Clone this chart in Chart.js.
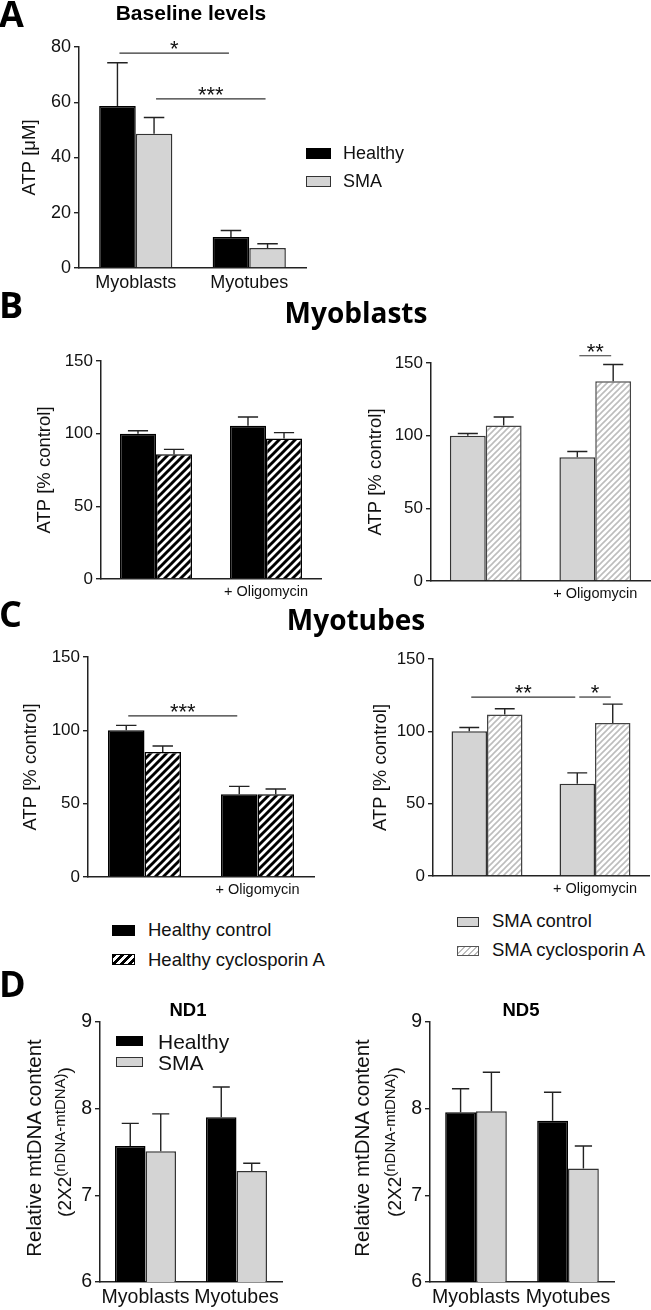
<!DOCTYPE html>
<html>
<head>
<meta charset="utf-8">
<script src="https://cdn.jsdelivr.net/npm/chart.js@4.4.1/dist/chart.umd.min.js"></script>
<style>
  body { margin: 0; background: #fff; }
  #page { position: relative; width: 651px; height: 1310px; overflow: hidden; font-family: "Liberation Sans", Arial, sans-serif; color: #111; }
  #page canvas { position: absolute; }
  .t { position: absolute; white-space: nowrap; line-height: 1; }
  .letter { font-family: "Open Sans", sans-serif; font-weight: 700; font-size: 36px; color: #000; }
  .section { font-family: "Open Sans", sans-serif; font-weight: 700; font-size: 28px; color: #000; transform: translateX(-50%); }
  .ctitle { font-weight: 700; color: #000; transform: translateX(-50%); }
  .sw { position: absolute; box-sizing: border-box; }
  .black { background: #000; }
  .gray { background: #d4d4d4; border: 1.3px solid #333; }
  .dhatch { background: repeating-linear-gradient(135deg, #000 0 2.6px, #fff 2.6px 5.6px); border: 1px solid #000; }
  .lhatch { background: repeating-linear-gradient(135deg, #bdbdbd 0 1.4px, #fff 1.4px 4.2px); border: 1.3px solid #555; }
  .ytitle { position: absolute; white-space: nowrap; line-height: 1; transform: translate(-50%, -50%) rotate(-90deg); }
  .ytitle sup { font-size: 15px; vertical-align: 0.45em; }
</style>
</head>
<body>
<div id="page">
  <canvas id="chartA"></canvas>
  <canvas id="chartBL"></canvas>
  <canvas id="chartBR"></canvas>
  <canvas id="chartCL"></canvas>
  <canvas id="chartCR"></canvas>
  <canvas id="chartDL"></canvas>
  <canvas id="chartDR"></canvas>

  <div class="t letter" style="left:-1px;top:-4px">A</div>
  <div class="t letter" style="left:-1px;top:287px">B</div>
  <div class="t letter" style="left:-1px;top:596px">C</div>
  <div class="t letter" style="left:-1px;top:966px">D</div>

  <div class="t section" style="left:356px;top:298px">Myoblasts</div>
  <div class="t section" style="left:356px;top:605px">Myotubes</div>

  <div class="t ctitle" style="left:191px;top:2px;font-size:21px">Baseline levels</div>
  <div class="t ctitle" style="left:188px;top:1001px;font-size:18.5px">ND1</div>
  <div class="t ctitle" style="left:521px;top:1001px;font-size:18.5px">ND5</div>

  <!-- legend A -->
  <div class="sw black" style="left:306px;top:148px;width:25px;height:11px"></div>
  <div class="t" style="left:343px;top:144px;font-size:18px">Healthy</div>
  <div class="sw gray" style="left:306px;top:176px;width:25px;height:11px"></div>
  <div class="t" style="left:343px;top:172px;font-size:18px">SMA</div>

  <!-- legend C left -->
  <div class="sw black" style="left:112px;top:925px;width:23px;height:11px"></div>
  <div class="t" style="left:148px;top:921px;font-size:18.5px">Healthy control</div>
  <div class="sw dhatch" style="left:112px;top:954px;width:23px;height:11px"></div>
  <div class="t" style="left:148px;top:951px;font-size:18.5px">Healthy cyclosporin A</div>

  <!-- legend C right -->
  <div class="sw gray" style="left:457px;top:917px;width:22px;height:10px"></div>
  <div class="t" style="left:492px;top:912px;font-size:18.5px">SMA control</div>
  <div class="sw lhatch" style="left:457px;top:946px;width:22px;height:10px"></div>
  <div class="t" style="left:492px;top:941px;font-size:18.5px">SMA cyclosporin A</div>

  <!-- legend D -->
  <div class="sw black" style="left:116px;top:1036px;width:27px;height:10px"></div>
  <div class="t" style="left:158px;top:1031px;font-size:21px">Healthy</div>
  <div class="sw gray" style="left:116px;top:1057px;width:27px;height:10px"></div>
  <div class="t" style="left:158px;top:1052px;font-size:21px">SMA</div>

  <!-- y titles D -->
  <div class="ytitle" style="left:34px;top:1148px;font-size:20.5px">Relative mtDNA content</div>
  <div class="ytitle" style="left:63px;top:1142px;font-size:19px">(2X2<sup>(nDNA-mtDNA)</sup>)</div>
  <div class="ytitle" style="left:362px;top:1148px;font-size:20.5px">Relative mtDNA content</div>
  <div class="ytitle" style="left:393px;top:1142px;font-size:19px">(2X2<sup>(nDNA-mtDNA)</sup>)</div>
</div>

<script>
// ---- data ----
const cellGroups = ['Myoblasts', 'Myotubes'];
const treatLabels = ['', '+ Oligomycin'];

// A: baseline ATP (uM)
const baseHealthy = [58.6, 11.2];
const baseHealthyErr = [15.7, 2.4];
const baseSma = [48.6, 7.2];
const baseSmaErr = [5.9, 1.6];

// B: myoblasts, ATP % control
const mbHealthyCtrl = [100, 105.5];
const mbHealthyCtrlErr = [2.0, 6.0];
const mbHealthyCsa = [85.8, 96.6];
const mbHealthyCsaErr = [3.4, 4.1];
const mbSmaCtrl = [100, 85.2];
const mbSmaCtrlErr = [1.5, 3.9];
const mbSmaCsa = [107, 137.4];
const mbSmaCsaErr = [5.8, 11.6];

// C: myotubes, ATP % control
const mtHealthyCtrl = [100, 56.4];
const mtHealthyCtrlErr = [3.4, 5.4];
const mtHealthyCsa = [85.2, 56.4];
const mtHealthyCsaErr = [4.1, 3.6];
const mtSmaCtrl = [100, 63.7];
const mtSmaCtrlErr = [2.7, 7.6];
const mtSmaCsa = [111.7, 105.7];
const mtSmaCsaErr = [3.9, 13.1];

// D: relative mtDNA content
const nd1Healthy = [7.57, 7.90];
const nd1HealthyErr = [0.26, 0.35];
const nd1Sma = [7.51, 7.28];
const nd1SmaErr = [0.43, 0.09];
const nd5Healthy = [7.96, 7.86];
const nd5HealthyErr = [0.27, 0.33];
const nd5Sma = [7.97, 7.31];
const nd5SmaErr = [0.45, 0.26];

// y tick values
const ticksBaseline = [0, 20, 40, 60, 80];
const ticksPercent = [0, 50, 100, 150];
const ticksMtDNA = [6, 7, 8, 9];

// significance bars: from/to = [dataset, category]
const sigA = [
  {from: [0, 0], to: [0, 1], y: 77.8, text: '*'},
  {from: [1, 0], to: [1, 1], y: 61.2, text: '***'}
];
const sigBR = [{from: [0, 1], to: [1, 1], y: 155, text: '**'}];
const sigCL = [{from: [0, 0], to: [0, 1], y: 109.8, text: '***'}];
const sigCR = [
  {from: [0, 0], to: [0, 1], y: 123.7, text: '**'},
  {from: [0, 1], to: [1, 1], y: 123.7, text: '*'}
];

const FONT = '"Liberation Sans", Arial, sans-serif';
const GRAY = '#d4d4d4';
Chart.defaults.font.family = FONT;
Chart.defaults.color = '#111';

function hatch(stripe, p, lw) {
  const c = document.createElement('canvas');
  c.width = p; c.height = p;
  const g = c.getContext('2d');
  g.fillStyle = '#fff';
  g.fillRect(0, 0, p, p);
  g.strokeStyle = stripe;
  g.lineWidth = lw;
  g.beginPath();
  g.moveTo(-p / 2, p / 2); g.lineTo(p / 2, -p / 2);
  g.moveTo(0, p); g.lineTo(p, 0);
  g.moveTo(p / 2, 3 * p / 2); g.lineTo(3 * p / 2, p / 2);
  g.stroke();
  return g.createPattern(c, 'repeat');
}
const darkHatch = hatch('#000', 8, 2.9);
const lightHatch = hatch('#bdbdbd', 6, 1.6);

// error bars (upward only), drawn from the bar top
const errorBars = {
  id: 'errorBars',
  afterDatasetsDraw(chart, args, opts) {
    const ctx = chart.ctx, ys = chart.scales.y;
    ctx.save();
    ctx.strokeStyle = '#222';
    ctx.lineWidth = 1.4;
    (opts.errors || []).forEach((errs, di) => {
      const vals = chart.data.datasets[di].data;
      chart.getDatasetMeta(di).data.forEach((bar, i) => {
        const y0 = ys.getPixelForValue(vals[i]);
        const y1 = ys.getPixelForValue(vals[i] + errs[i]);
        const half = bar.width * 0.28;
        ctx.beginPath();
        ctx.moveTo(bar.x, y0); ctx.lineTo(bar.x, y1);
        ctx.moveTo(bar.x - half, y1); ctx.lineTo(bar.x + half, y1);
        ctx.stroke();
      });
    });
    ctx.restore();
  }
};

// significance lines with stars
const brackets = {
  id: 'brackets',
  afterDatasetsDraw(chart, args, opts) {
    const ctx = chart.ctx, ys = chart.scales.y;
    ctx.save();
    ctx.strokeStyle = '#333';
    ctx.fillStyle = '#111';
    ctx.lineWidth = 1.2;
    ctx.font = '22px ' + FONT;
    ctx.textAlign = 'center';
    ctx.textBaseline = 'alphabetic';
    (opts.items || []).forEach(b => {
      const xa = chart.getDatasetMeta(b.from[0]).data[b.from[1]].x + 2;
      const xb = chart.getDatasetMeta(b.to[0]).data[b.to[1]].x - 2;
      const y = ys.getPixelForValue(b.y);
      ctx.beginPath();
      ctx.moveTo(xa, y); ctx.lineTo(xb, y);
      ctx.stroke();
      ctx.fillText(b.text, (xa + xb) / 2, y + 3);
    });
    ctx.restore();
  }
};

// box = canvas rect on the page, area = wanted plot rect on the page
function barChart(id, box, area, o) {
  const cv = document.getElementById(id);
  cv.style.left = box.x + 'px';
  cv.style.top = box.y + 'px';
  cv.width = box.w; cv.height = box.h;
  cv.style.width = box.w + 'px';
  cv.style.height = box.h + 'px';
  const yTicks = o.ticks;
  return new Chart(cv, {
    type: 'bar',
    data: {labels: o.labels, datasets: o.datasets},
    options: {
      responsive: false,
      animation: false,
      events: [],
      layout: {padding: {left: 0, bottom: 0, top: area.top - box.y, right: box.x + box.w - area.right}},
      datasets: {bar: {categoryPercentage: o.cat, barPercentage: 1, borderWidth: 1.5}},
      scales: {
        x: {
          grid: {display: false, drawTicks: false},
          border: {display: true, color: '#222', width: 1.5},
          ticks: {font: {size: o.xFont}, padding: o.xPad, autoSkip: false, maxRotation: 0, minRotation: 0},
          afterFit: s => { s.height = box.y + box.h - area.bottom; }
        },
        y: {
          min: yTicks[0],
          max: yTicks[yTicks.length - 1],
          afterBuildTicks: s => { s.ticks = yTicks.map(v => ({value: v})); },
          grid: {display: true, drawOnChartArea: false, drawTicks: true, tickLength: 5, color: '#222', lineWidth: 1.4},
          border: {display: true, color: '#222', width: 1.5},
          ticks: {font: {size: o.yFont}, padding: 3},
          title: o.yTitle
            ? {display: true, text: o.yTitle, font: {size: 18.5}, padding: {top: o.titlePad, bottom: 0}}
            : {display: false},
          afterFit: s => { s.width = area.left - box.x; }
        }
      },
      plugins: {
        legend: {display: false},
        tooltip: {enabled: false},
        errorBars: {errors: o.errors},
        brackets: {items: o.sig || []}
      }
    },
    plugins: [errorBars, brackets]
  });
}

function ds(label, data, fill, border) {
  return {label: label, data: data, backgroundColor: fill, borderColor: border};
}

// A
barChart('chartA', {x: 0, y: 20, w: 320, h: 280}, {left: 79, right: 306, top: 47, bottom: 268}, {
  labels: cellGroups,
  datasets: [ds('Healthy', baseHealthy, '#000', '#000'), ds('SMA', baseSma, GRAY, '#333')],
  errors: [baseHealthyErr, baseSmaErr],
  sig: sigA, ticks: ticksBaseline, cat: 0.645,
  xFont: 18, xPad: 4, yFont: 18, yTitle: 'ATP [μM]', titlePad: 19
});

// B left / right
barChart('chartBL', {x: 0, y: 335, w: 325, h: 270}, {left: 101, right: 321, top: 361, bottom: 579}, {
  labels: treatLabels,
  datasets: [ds('Healthy control', mbHealthyCtrl, '#000', '#000'), ds('Healthy cyclosporin A', mbHealthyCsa, darkHatch, '#000')],
  errors: [mbHealthyCtrlErr, mbHealthyCsaErr],
  ticks: ticksPercent, cat: 0.655,
  xFont: 14.5, xPad: 4, yFont: 17, yTitle: 'ATP [% control]', titlePad: 34
});
barChart('chartBR', {x: 325, y: 335, w: 326, h: 270}, {left: 431, right: 650, top: 363, bottom: 581}, {
  labels: treatLabels,
  datasets: [ds('SMA control', mbSmaCtrl, GRAY, '#333'), ds('SMA cyclosporin A', mbSmaCsa, lightHatch, '#444')],
  errors: [mbSmaCtrlErr, mbSmaCsaErr],
  sig: sigBR, ticks: ticksPercent, cat: 0.655,
  xFont: 14.5, xPad: 4, yFont: 17, yTitle: 'ATP [% control]', titlePad: 40
});

// C left / right
barChart('chartCL', {x: 0, y: 640, w: 325, h: 270}, {left: 88, right: 314, top: 657, bottom: 877}, {
  labels: treatLabels,
  datasets: [ds('Healthy control', mtHealthyCtrl, '#000', '#000'), ds('Healthy cyclosporin A', mtHealthyCsa, darkHatch, '#000')],
  errors: [mtHealthyCtrlErr, mtHealthyCsaErr],
  sig: sigCL, ticks: ticksPercent, cat: 0.646,
  xFont: 14.5, xPad: 4, yFont: 17, yTitle: 'ATP [% control]', titlePad: 20
});
barChart('chartCR', {x: 325, y: 640, w: 326, h: 270}, {left: 433, right: 649, top: 659, bottom: 876}, {
  labels: treatLabels,
  datasets: [ds('SMA control', mtSmaCtrl, GRAY, '#333'), ds('SMA cyclosporin A', mtSmaCsa, lightHatch, '#444')],
  errors: [mtSmaCtrlErr, mtSmaCsaErr],
  sig: sigCR, ticks: ticksPercent, cat: 0.657,
  xFont: 14.5, xPad: 4, yFont: 17, yTitle: 'ATP [% control]', titlePad: 45
});

// D: ND1 / ND5
barChart('chartDL', {x: 0, y: 1000, w: 320, h: 310}, {left: 100, right: 282, top: 1022, bottom: 1282}, {
  labels: cellGroups,
  datasets: [ds('Healthy', nd1Healthy, '#000', '#000'), ds('SMA', nd1Sma, GRAY, '#333')],
  errors: [nd1HealthyErr, nd1SmaErr],
  ticks: ticksMtDNA, cat: 0.67,
  xFont: 19.5, xPad: 4, yFont: 19.5
});
barChart('chartDR', {x: 325, y: 1000, w: 326, h: 310}, {left: 430, right: 614, top: 1022, bottom: 1282}, {
  labels: cellGroups,
  datasets: [ds('Healthy', nd5Healthy, '#000', '#000'), ds('SMA', nd5Sma, GRAY, '#333')],
  errors: [nd5HealthyErr, nd5SmaErr],
  ticks: ticksMtDNA, cat: 0.67,
  xFont: 19.5, xPad: 4, yFont: 19.5
});
</script>
</body>
</html>
